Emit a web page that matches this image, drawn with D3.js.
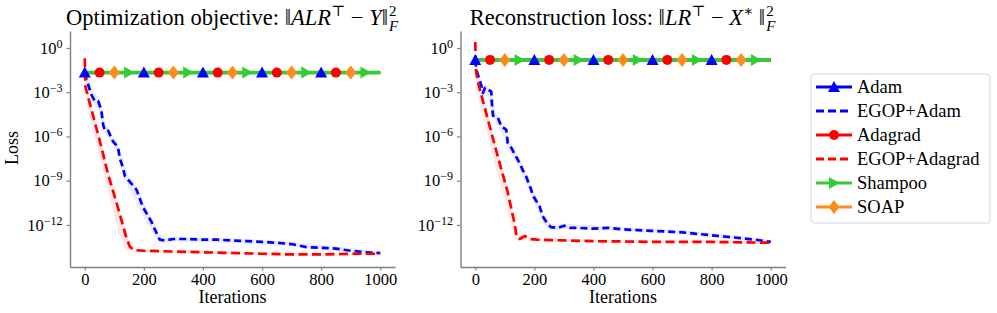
<!DOCTYPE html>
<html>
<head>
<meta charset="utf-8">
<script src="https://cdn.jsdelivr.net/npm/d3@7"></script>
<style>
  body { margin: 0; background: #fff; }
  text { font-family: "Liberation Serif", "DejaVu Serif", serif; }
</style>
</head>
<body>
<svg width="997" height="313"></svg>
<script>
// all loss values are stored as log10(loss)
var xTicks = [0, 200, 400, 600, 800, 1000];
var yTicks = [0, -3, -6, -9, -12];

// flat baselines (Adam, Adagrad, Shampoo, SOAP all sit on the same level)
var flatIters = [0, 1000];
var flatLeft = [-1.67, -1.67];
var flatRight = [-0.81, -0.81];

// marker positions for the flat methods
var adamMarks = [0, 200, 400, 600, 800];
var adagradMarks = [50, 250, 450, 650, 850];
var soapMarks = [100, 300, 500, 700, 900];
var shampooMarks = [150, 350, 550, 750, 950];

// left panel: EGOP+Adam
var egopAdamL_it = [0, 5, 23, 34, 45, 56, 62, 68, 79, 90, 96, 112, 119, 129, 136, 158, 175, 197, 203, 226, 237, 254, 271, 300, 350, 400, 450, 500, 550, 600, 650, 700, 750, 800, 850, 900, 950, 1000];
var egopAdamL = [-1.7, -2.1, -3.2, -3.6, -3.6, -4.2, -5.2, -5.6, -5.6, -6.1, -6.35, -6.7, -7.5, -8.1, -8.7, -9.2, -9.6, -10.8, -11.0, -11.8, -12.3, -13.0, -13.05, -12.95, -12.95, -13.0, -13.0, -13.05, -13.1, -13.15, -13.2, -13.3, -13.5, -13.55, -13.6, -13.75, -13.85, -13.9];
var egopAdamL_bandIt = [0, 10, 30, 50, 70, 90, 110, 130, 150, 170, 190, 210, 230, 250, 270, 300, 500, 700, 850, 1000];
var egopAdamL_hi = [-1.5, -1.9, -3.0, -3.4, -5.0, -5.8, -6.4, -7.6, -8.8, -9.2, -10.0, -10.9, -11.6, -12.5, -12.85, -12.8, -12.9, -13.15, -13.45, -13.8];
var egopAdamL_lo = [-1.9, -2.7, -3.8, -4.4, -5.8, -6.4, -7.1, -8.6, -9.6, -10.3, -11.1, -11.9, -12.5, -13.2, -13.2, -13.1, -13.2, -13.45, -13.75, -14.0];

// left panel: EGOP+Adagrad
var egopAdagradL_it = [0, 2, 11, 56, 78, 112, 140, 152, 165, 200, 300, 400, 500, 600, 700, 800, 900, 1000];
var egopAdagradL = [-0.7, -2.6, -3.3, -6.7, -8.5, -10.8, -12.8, -13.45, -13.7, -13.75, -13.8, -13.85, -13.9, -13.95, -14.0, -14.0, -13.95, -13.95];
var egopAdagradL_bandIt = [0, 2, 11, 40, 60, 80, 100, 120, 135, 150, 165, 200, 400, 600, 800, 1000];
var egopAdagradL_hi = [-0.3, -2.2, -3.0, -5.2, -6.7, -8.3, -9.7, -11.1, -12.1, -13.1, -13.6, -13.65, -13.75, -13.85, -13.9, -13.85];
var egopAdagradL_lo = [-1.0, -3.0, -4.3, -6.6, -8.2, -9.8, -11.3, -12.8, -13.55, -13.8, -13.85, -13.85, -13.95, -14.05, -14.1, -14.05];

// right panel: EGOP+Adam
var egopAdamR_it = [0, 4, 20, 26, 33, 45, 54, 57, 60, 76, 88, 105, 110, 123, 139, 150, 161, 172, 189, 195, 218, 228, 244, 256, 279, 301, 320, 350, 400, 450, 500, 550, 600, 650, 700, 750, 800, 850, 900, 950, 1000];
var egopAdamR = [-0.8, -1.5, -2.5, -3.05, -2.7, -2.85, -2.95, -4.0, -4.6, -4.7, -5.3, -5.55, -6.45, -6.8, -7.4, -7.8, -8.3, -8.7, -9.6, -10.0, -10.75, -11.4, -11.9, -12.15, -12.2, -12.05, -12.2, -12.2, -12.25, -12.2, -12.3, -12.35, -12.4, -12.45, -12.5, -12.6, -12.7, -12.8, -12.9, -13.0, -13.15];
var egopAdamR_bandIt = [0, 10, 25, 40, 55, 70, 90, 110, 130, 150, 170, 190, 210, 230, 250, 270, 300, 500, 700, 850, 1000];
var egopAdamR_hi = [-0.6, -1.6, -2.6, -2.5, -3.0, -4.3, -5.0, -6.1, -6.8, -7.5, -8.3, -9.3, -10.2, -11.2, -11.8, -12.0, -11.9, -12.15, -12.35, -12.65, -13.0];
var egopAdamR_lo = [-1.0, -2.3, -3.4, -3.2, -4.0, -5.1, -5.8, -6.9, -7.5, -8.2, -9.0, -10.1, -11.0, -11.9, -12.35, -12.4, -12.25, -12.45, -12.65, -12.95, -13.3];

// right panel: EGOP+Adagrad
var egopAdagradR_it = [0, 2, 10, 70, 110, 133, 140, 150, 168, 185, 210, 300, 400, 500, 600, 700, 800, 900, 1000];
var egopAdagradR = [0.4, -1.5, -2.4, -6.9, -9.8, -11.9, -12.8, -12.95, -12.75, -12.95, -13.0, -13.05, -13.1, -13.12, -13.15, -13.15, -13.15, -13.18, -13.2];
var egopAdagradR_bandIt = [0, 2, 10, 40, 70, 90, 110, 125, 135, 145, 160, 200, 400, 600, 800, 1000];
var egopAdagradR_hi = [0.6, -1.2, -2.1, -4.35, -6.6, -8.05, -9.5, -10.9, -11.9, -12.75, -12.7, -12.9, -13.0, -13.05, -13.05, -13.1];
var egopAdagradR_lo = [0.1, -2.0, -3.4, -5.8, -8.2, -9.6, -11.0, -12.3, -12.95, -13.05, -13.0, -13.1, -13.2, -13.25, -13.25, -13.3];

var legendNames = ["Adam", "EGOP+Adam", "Adagrad", "EGOP+Adagrad", "Shampoo", "SOAP"];

var BLUE = "#0000ff", RED = "#ff0000", GREEN = "#33cc33", ORANGE = "#ff8c1a";
var triUp = "M0,-6L6,5L-6,5Z",
    triRight = "M5.5,0L-5,-6L-5,6Z",
    diamond = "M0,-7L5.5,0L0,7L-5.5,0Z";

var svg = d3.select("svg");
var yTop = 31, yBottom = 267;

var panels = [
  { x0: 70, x1: 395, flat: flatLeft,
    adam: [egopAdamL_it, egopAdamL, egopAdamL_bandIt, egopAdamL_lo, egopAdamL_hi],
    adag: [egopAdagradL_it, egopAdagradL, egopAdagradL_bandIt, egopAdagradL_lo, egopAdagradL_hi],
    title: [["Optimization objective: ‖"], ["ALR", "i"], ["⊤", "sup"], [" − "], ["Y", "i"], ["‖"]] },
  { x0: 460.5, x1: 785.5, flat: flatRight,
    adam: [egopAdamR_it, egopAdamR, egopAdamR_bandIt, egopAdamR_lo, egopAdamR_hi],
    adag: [egopAdagradR_it, egopAdagradR, egopAdagradR_bandIt, egopAdagradR_lo, egopAdagradR_hi],
    title: [["Reconstruction loss: ‖"], ["LR", "i"], ["⊤", "sup"], [" − "], ["X", "i"], ["∗", "sup"], [" ‖"]] }
];

panels.forEach(function (p, pi) {
  var x = d3.scaleLinear().domain([-50, 1050]).range([p.x0, p.x1]);
  var y = d3.scaleLog().domain([Math.pow(10, 1.15), Math.pow(10, -14.85)]).range([yTop, yBottom]);
  var Y = function (v) { return y(Math.pow(10, v)); };

  var g = svg.append("g");
  var plot = g.append("g");

  // shaded bands
  [[p.adam, "#e8e8ff"], [p.adag, "#fde3e3"]].forEach(function (s) {
    var pts = s[0][2].map(function (it, i) { return { it: it, lo: s[0][3][i], hi: s[0][4][i] }; });
    plot.append("path")
      .attr("d", d3.area().x(function (d) { return x(d.it); })
        .y0(function (d) { return Y(d.lo); }).y1(function (d) { return Y(d.hi); })(pts))
      .attr("fill", s[1]).attr("opacity", 0.85);
  });

  var line = d3.line().x(function (d) { return x(d[0]); }).y(function (d) { return Y(d[1]); });

  // EGOP dashed curves
  [[p.adam, BLUE, "7,4"], [p.adag, RED, "9,4.5"]].forEach(function (s) {
    var pts = s[0][0].map(function (it, i) { return [it, s[0][1][i]]; });
    plot.append("path").attr("d", line(pts))
      .attr("fill", "none").attr("stroke", s[1]).attr("stroke-width", 2.7)
      .attr("stroke-dasharray", s[2]).attr("stroke-linejoin", "round");
  });

  // flat baselines
  var flatPts = flatIters.map(function (it, i) { return [it, p.flat[i]]; });
  [ORANGE, BLUE, RED, GREEN].forEach(function (c) {
    plot.append("path").attr("d", line(flatPts))
      .attr("fill", "none").attr("stroke", c).attr("stroke-width", c === GREEN ? 3.6 : 2.6);
  });

  var lvl = p.flat[0];
  [[adamMarks, triUp, BLUE], [adagradMarks, null, RED], [soapMarks, diamond, ORANGE], [shampooMarks, triRight, GREEN]]
    .forEach(function (m) {
      var sel = plot.selectAll(null).data(m[0]).enter();
      if (m[1]) {
        sel.append("path").attr("d", m[1])
          .attr("transform", function (d) { return "translate(" + x(d) + "," + Y(lvl) + ")"; })
          .attr("fill", m[2]);
      } else {
        sel.append("circle").attr("cx", function (d) { return x(d); }).attr("cy", Y(lvl))
          .attr("r", 5).attr("fill", m[2]);
      }
    });

  // axes
  var gx = g.append("g").attr("transform", "translate(0," + yBottom + ")")
    .call(d3.axisBottom(x).tickValues(xTicks).tickSize(3.5).tickSizeOuter(0).tickPadding(3)
      .tickFormat(d3.format("d")));
  var gy = g.append("g").attr("transform", "translate(" + p.x0 + ",0)")
    .call(d3.axisLeft(y).tickValues(yTicks.map(function (e) { return Math.pow(10, e); }))
      .tickSize(3.5).tickSizeOuter(0).tickPadding(4).tickFormat(function () { return ""; }));
  [gx, gy].forEach(function (a) {
    a.attr("font-family", null).attr("font-size", 16.5);
    a.select(".domain").attr("stroke", "#808080").attr("stroke-width", 1.4);
    a.selectAll(".tick line").attr("stroke", "#808080").attr("stroke-width", 1.2);
    a.selectAll(".tick text").attr("fill", "#000");
  });
  gy.selectAll(".tick text").each(function (d) {
    var e = Math.round(Math.log10(d));
    var t = d3.select(this);
    t.append("tspan").text("10");
    t.append("tspan").attr("dy", "-0.5em").attr("font-size", 12).text(e === 0 ? "0" : "−" + (-e));
  });

  g.append("text").attr("x", x(500)).attr("y", 303).attr("text-anchor", "middle")
    .attr("font-size", 18).text("Iterations");
  if (pi === 0) {
    g.append("text").attr("transform", "translate(18,148) rotate(-90)").attr("text-anchor", "middle")
      .attr("font-size", 18).text("Loss");
  }

  // title with stacked sup/sub on the norm
  var tg = g.append("g");
  var tt = tg.append("text").attr("x", 0).attr("y", 25).attr("font-size", 22.5);
  var raised = false;
  p.title.forEach(function (part) {
    var sp = tt.append("tspan").text(part[0]);
    if (part[1] === "i") sp.attr("font-style", "italic");
    if (part[1] === "sup") { sp.attr("font-size", 15).attr("dy", -9); raised = true; }
    else if (raised) { sp.attr("dy", 9); raised = false; }
  });
  var w = tt.node().getComputedTextLength();
  tg.append("text").attr("x", w + 1).attr("y", 16).attr("font-size", 15).text("2");
  tg.append("text").attr("x", w + 1).attr("y", 31).attr("font-size", 15).attr("font-style", "italic").text("F");
  var bb = tg.node().getBBox();
  tg.attr("transform", "translate(" + ((p.x0 + p.x1) / 2 - bb.width / 2) + ",0)");
});

// legend
var lg = svg.append("g");
lg.append("rect").attr("x", 811).attr("y", 74).attr("width", 179).attr("height", 149)
  .attr("rx", 3).attr("fill", "#fff").attr("stroke", "#d6d6d6").attr("stroke-width", 1);
var legendStyle = [
  [BLUE, false, triUp], [BLUE, true, null], [RED, false, "circle"],
  [RED, true, null], [GREEN, false, triRight], [ORANGE, false, diamond]
];
var ly = d3.scalePoint().domain(legendNames).range([87, 207]);
legendNames.forEach(function (name, i) {
  var s = legendStyle[i], yy = ly(name);
  lg.append("line").attr("x1", 816).attr("x2", 852).attr("y1", yy).attr("y2", yy)
    .attr("stroke", s[0]).attr("stroke-width", 2.8)
    .attr("stroke-dasharray", s[1] ? "8,4" : null);
  if (s[2] === "circle") lg.append("circle").attr("cx", 834).attr("cy", yy).attr("r", 5).attr("fill", s[0]);
  else if (s[2]) lg.append("path").attr("d", s[2]).attr("transform", "translate(834," + yy + ")").attr("fill", s[0]);
  lg.append("text").attr("x", 857).attr("y", yy).attr("dy", "0.33em").attr("font-size", 18.5).text(name);
});
</script>
</body>
</html>
